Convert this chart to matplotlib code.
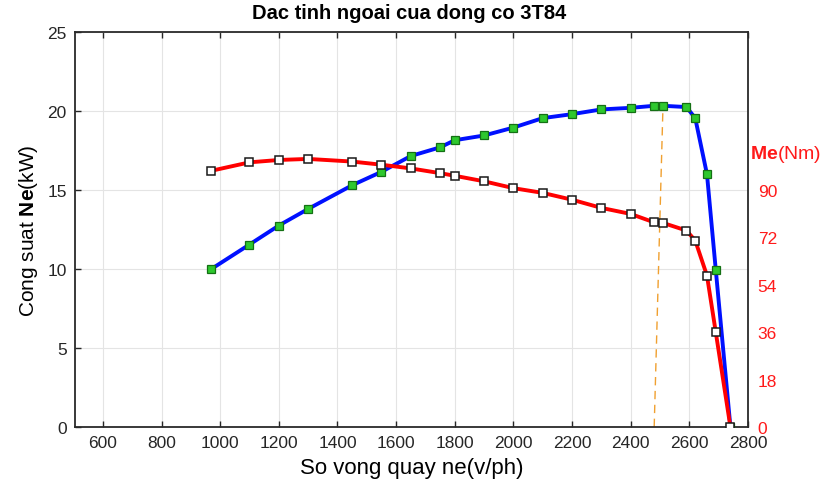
import matplotlib
matplotlib.use("Agg")
import matplotlib.pyplot as plt

plt.rcParams['font.family'] = ['Liberation Sans', 'DejaVu Sans']
plt.rcParams['mathtext.fontset'] = 'custom'
plt.rcParams['mathtext.rm'] = 'Liberation Sans'
plt.rcParams['mathtext.bf'] = 'Liberation Sans:bold'

# Data
rpm = [970, 1100, 1200, 1300, 1450, 1550, 1650, 1750, 1800, 1900, 2000,
       2100, 2200, 2300, 2400, 2480, 2510, 2590, 2620, 2660, 2690, 2740]
power_kw = [10.0, 11.55, 12.75, 13.8, 15.3, 16.15, 17.15, 17.7, 18.15, 18.45, 18.95,
            19.55, 19.8, 20.1, 20.2, 20.33, 20.33, 20.25, 19.55, 16.0, 9.95, 0.0]
torque_nm = [97.3, 100.5, 101.4, 101.8, 100.8, 99.6, 98.2, 96.4, 95.4, 93.3, 90.7,
             88.9, 86.3, 83.2, 80.9, 77.7, 77.5, 74.6, 70.8, 57.5, 36.0, 0.0]
marker_rpm = [2480, 2510]
marker_power = [0.0, 20.3]

x_ticks = [600, 800, 1000, 1200, 1400, 1600, 1800, 2000, 2200, 2400, 2600, 2800]
left_ticks = [0, 5, 10, 15, 20, 25]
right_ticks = [0, 18, 36, 54, 72, 90]

fig = plt.figure(figsize=(8.26, 4.81), dpi=100)
ax = fig.add_axes([0.0908, 0.1102, 0.8148, 0.8212])

ax.set_xlim(505, 2800)
ax.set_ylim(0, 25)
ax.set_xticks(x_ticks)
ax.set_yticks(left_ticks)
ax.grid(True, color='#e4e4e4', lw=0.8)
ax.set_axisbelow(True)
ax.tick_params(direction='in', top=True, right=True, length=4, width=1,
               labelsize=12.5, colors='#262626', pad=6)
for s in ax.spines.values():
    s.set_color('#2a2a2a')
    s.set_linewidth(1.3)

ax.plot(marker_rpm, marker_power, color='#f0a030', lw=1.0, ls=(0, (6, 4)), zorder=2)
ax.plot(rpm, power_kw, color='#0010ff', lw=2.8, marker='s', markersize=5.5,
        markerfacecolor='#2ec82e', markeredgecolor='#147014', markeredgewidth=0.9, zorder=3)

ax2 = ax.twinx()
ax2.set_ylim(0, 150)
ax2.set_yticks(right_ticks)
ax2.tick_params(length=0, labelsize=12.5, labelcolor='#ff1a1a', pad=7)
for s in ax2.spines.values():
    s.set_visible(False)
ax2.plot(rpm, torque_nm, color='#ff0000', lw=2.8, marker='s', markersize=5.5,
         markerfacecolor='white', markeredgecolor='#1a1a1a', markeredgewidth=1.1, zorder=3)
ax2.text(1.003, 103.7, r'$\mathbf{Me}$(Nm)', transform=ax2.get_yaxis_transform(),
         color='#ff1a1a', fontsize=14, ha='left', va='center')

fig.text(0.4958, 0.972, 'Dac tinh ngoai cua dong co 3T84', fontsize=14.5,
         fontweight='bold', ha='center', va='center')
ax.set_xlabel('So vong quay ne(v/ph)', fontsize=16, labelpad=4.5)
ax.set_ylabel(r'Cong suat $\mathbf{Ne}$(kW)', fontsize=15, labelpad=5)

fig.savefig('out.png', dpi=100)
